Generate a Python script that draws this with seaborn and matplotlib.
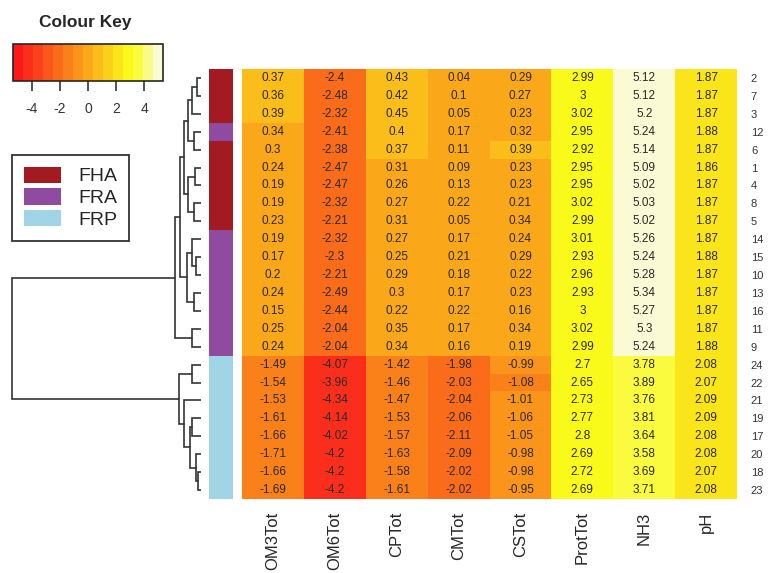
import colorsys
import numpy as np
import pandas as pd
import matplotlib
matplotlib.use("Agg")
import matplotlib.pyplot as plt
from matplotlib.colors import ListedColormap, BoundaryNorm
from matplotlib.patches import Patch
import seaborn as sns

# --- data (rows in displayed order) ---
variables = ["OM3Tot", "OM6Tot", "CPTot", "CMTot", "CSTot", "ProtTot", "NH3", "pH"]
row_ids = ["2", "7", "3", "12", "6", "1", "4", "8", "5",
           "14", "15", "10", "13", "16", "11", "9",
           "24", "22", "21", "19", "17", "20", "18", "23"]
groups = ["FHA", "FHA", "FHA", "FRA", "FHA", "FHA", "FHA", "FHA", "FHA",
          "FRA", "FRA", "FRA", "FRA", "FRA", "FRA", "FRA",
          "FRP", "FRP", "FRP", "FRP", "FRP", "FRP", "FRP", "FRP"]

om3 = [0.37, 0.36, 0.39, 0.34, 0.3, 0.24, 0.19, 0.19, 0.23,
       0.19, 0.17, 0.2, 0.24, 0.15, 0.25, 0.24,
       -1.49, -1.54, -1.53, -1.61, -1.66, -1.71, -1.66, -1.69]
om6 = [-2.4, -2.48, -2.32, -2.41, -2.38, -2.47, -2.47, -2.32, -2.21,
       -2.32, -2.3, -2.21, -2.49, -2.44, -2.04, -2.04,
       -4.07, -3.96, -4.34, -4.14, -4.02, -4.2, -4.2, -4.2]
cp = [0.43, 0.42, 0.45, 0.4, 0.37, 0.31, 0.26, 0.27, 0.31,
      0.27, 0.25, 0.29, 0.3, 0.22, 0.35, 0.34,
      -1.42, -1.46, -1.47, -1.53, -1.57, -1.63, -1.58, -1.61]
cm = [0.04, 0.1, 0.05, 0.17, 0.11, 0.09, 0.13, 0.22, 0.05,
      0.17, 0.21, 0.18, 0.17, 0.22, 0.17, 0.16,
      -1.98, -2.03, -2.04, -2.06, -2.11, -2.09, -2.02, -2.02]
cs = [0.29, 0.27, 0.23, 0.32, 0.39, 0.23, 0.23, 0.21, 0.34,
      0.24, 0.29, 0.22, 0.23, 0.16, 0.34, 0.19,
      -0.99, -1.08, -1.01, -1.06, -1.05, -0.98, -0.98, -0.95]
prot = [2.99, 3, 3.02, 2.95, 2.92, 2.95, 2.95, 3.02, 2.99,
        3.01, 2.93, 2.96, 2.93, 3, 3.02, 2.99,
        2.7, 2.65, 2.73, 2.77, 2.8, 2.69, 2.72, 2.69]
nh3 = [5.12, 5.12, 5.2, 5.24, 5.14, 5.09, 5.02, 5.03, 5.02,
       5.26, 5.24, 5.28, 5.34, 5.27, 5.3, 5.24,
       3.78, 3.89, 3.76, 3.81, 3.64, 3.58, 3.69, 3.71]
ph = [1.87, 1.87, 1.87, 1.88, 1.87, 1.86, 1.87, 1.87, 1.87,
      1.87, 1.88, 1.87, 1.87, 1.87, 1.87, 1.88,
      2.08, 2.07, 2.09, 2.09, 2.08, 2.08, 2.07, 2.08]

# row dendrogram: (child a, child b, height); leaves 0..23, new clusters 24..
merges = [(0, 1, 0.5), (24, 2, 1.0), (3, 4, 0.8), (25, 26, 1.5),
          (5, 6, 0.7), (7, 8, 0.8), (28, 29, 1.5), (27, 30, 2.0),
          (10, 11, 0.6), (9, 32, 1.0), (12, 13, 0.8), (33, 34, 1.6),
          (31, 35, 2.4), (14, 15, 1.0), (36, 37, 3.0),
          (16, 17, 1.0), (19, 20, 1.0), (22, 23, 0.3), (21, 41, 0.6),
          (40, 42, 1.3), (18, 43, 2.0), (39, 44, 2.6), (38, 45, 22.0)]

group_names = ["FHA", "FRA", "FRP"]
group_colors = ["#a31b21", "#8e4b9f", "#9fd5e5"]

df = pd.DataFrame({"OM3Tot": om3, "OM6Tot": om6, "CPTot": cp, "CMTot": cm,
                   "CSTot": cs, "ProtTot": prot, "NH3": nh3, "pH": ph},
                  index=row_ids)[variables]

# heat.colors(15) with symmetric breaks, like heatmap.2 (slightly softened)
n_col = 15
j = n_col // 4
i = n_col - j
heat = [colorsys.hsv_to_rgb(h, 1, 1) for h in np.linspace(0, 1 / 6, i)]
heat += [colorsys.hsv_to_rgb(1 / 6, s, 1) for s in np.linspace(1 - 1 / (2 * j), 1 / (2 * j), j)]
heat = [tuple(min(1, 0.88 * c + 0.1) for c in rgb) for rgb in heat]
cmap = ListedColormap(heat)
lim = np.abs(df.values).max()
breaks = np.linspace(-lim, lim, n_col + 1)
norm = BoundaryNorm(breaks, n_col)

sns.set_style("white")
plt.rcParams["font.family"] = ["Liberation Sans", "DejaVu Sans"]
plt.rcParams["axes.unicode_minus"] = False

W, H = 768, 573
fig = plt.figure(figsize=(W / 100, H / 100), dpi=100)


def box(x0, y0, x1, y1):
    return [x0 / W, 1 - y1 / H, (x1 - x0) / W, (y1 - y0) / H]


ax = fig.add_axes(box(242, 69, 737, 499))
sns.heatmap(df, ax=ax, cmap=cmap, norm=norm, cbar=False, annot=True, fmt="g",
            annot_kws={"color": "#2a2a2a", "fontsize": 8.5})
ax.yaxis.tick_right()
ax.set_yticklabels(row_ids, rotation=0, fontsize=8, color="#333333")
ax.set_xticklabels(variables, rotation=90, fontsize=12, va="top")
ax.tick_params(axis="both", length=0)
ax.tick_params(axis="y", pad=10)
ax.tick_params(axis="x", pad=9)
ax.set_xlabel("")
ax.set_ylabel("")

# side colour bar
side = fig.add_axes(box(209, 69, 233, 499))
codes = pd.DataFrame({"g": [group_names.index(g) for g in groups]}, index=row_ids)
sns.heatmap(codes, ax=side, cmap=ListedColormap(group_colors), vmin=-0.5, vmax=2.5,
            cbar=False, xticklabels=False, yticklabels=False)

# dendrogram
dax = fig.add_axes(box(10, 69, 201, 499))
pos = {k: (0.0, k + 0.5) for k in range(len(row_ids))}
for idx, (a, b, h) in enumerate(merges):
    xa, ya = pos[a]
    xb, yb = pos[b]
    dax.plot([xa, h, h, xb], [ya, ya, yb, yb], color="#333333", lw=1.2,
             solid_joinstyle="miter")
    pos[len(row_ids) + idx] = (h, (ya + yb) / 2)
dax.set_xlim(merges[-1][2] * 1.01, 0)
dax.set_ylim(len(row_ids), 0)
dax.axis("off")

# colour key
kax = fig.add_axes(box(13, 44, 163, 81))
sm = plt.cm.ScalarMappable(cmap=cmap, norm=norm)
cb = fig.colorbar(sm, cax=kax, orientation="horizontal", ticks=[-4, -2, 0, 2, 4])
cb.minorticks_off()
cb.outline.set_linewidth(1.2)
cb.ax.tick_params(labelsize=10, length=7, width=1.2, direction="out",
                  colors="#333333", pad=8)
fig.text(85 / W, 1 - 22 / H, "Colour Key", ha="center", va="center",
         fontsize=12.5, fontweight="bold")

# group legend
handles = [Patch(facecolor=c, edgecolor="none", label=g)
           for g, c in zip(group_names, group_colors)]
leg = fig.legend(handles=handles, loc="upper left",
                 bbox_to_anchor=(12 / W, 1 - 155 / H), borderaxespad=0,
                 frameon=True, fancybox=False, edgecolor="black", fontsize=14,
                 handlelength=1.9, handleheight=0.9, borderpad=0.6,
                 labelspacing=0.15, handletextpad=0.9)
leg.get_frame().set_linewidth(1.3)

fig.savefig("out.png", dpi=100)
